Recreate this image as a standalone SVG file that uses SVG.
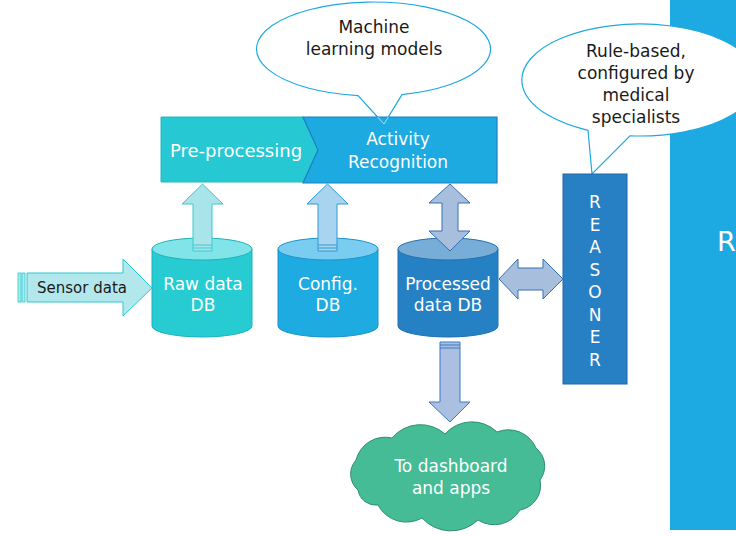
<svg xmlns="http://www.w3.org/2000/svg" width="736" height="536" viewBox="0 0 736 536">
<style>
text{font-family:"DejaVu Sans","Liberation Sans",sans-serif;text-anchor:middle}
.w{fill:#ffffff}
.k{fill:#1a1a1a}
.lbl{font-size:17px}
.bub{fill:#ffffff;stroke:#1CA9E0;stroke-width:1.2}
</style>
<rect x="0" y="0" width="736" height="536" fill="#ffffff"/>
<g id="side-panel">
<rect x="670" y="0" width="66" height="530" fill="#1DA9E1"/>
<text x="717" y="251" class="w" style="font-size:27px;text-anchor:start">R</text>
</g>
<g id="bubble-reasoner">
<path class="bub" d="M588,130.3 A118,56 0 1 1 630,135.8 L592,174 Z"/>
<text class="k lbl" x="636" y="57">Rule-based,</text>
<text class="k lbl" x="636" y="79">configured by</text>
<text class="k lbl" x="636" y="101">medical</text>
<text class="k lbl" x="636" y="123">specialists</text>
</g>
<g id="bubble-ml">
<path class="bub" d="M358,95.6 A117,47 0 1 1 402,94.6 L384,124 Z"/>
<text class="k lbl" x="374" y="33">Machine</text>
<text class="k lbl" x="374" y="55">learning models</text>
</g>
<g id="preprocessing">
<path d="M161,117 L303,117 L318,150 L303,182 L161,182 Z" fill="#26C9D3" stroke="#22B8C2" stroke-width="1"/>
<text class="w" x="236" y="157" style="font-size:18px">Pre-processing</text>
</g>
<g id="activity">
<path d="M303,117 L497,117 L497,183 L303,183 L318,150 Z" fill="#1DAAE1" stroke="#1B80C1" stroke-width="1.2"/>
<path d="M377.6,117 L384,124 L388.3,117" fill="none" stroke="#A8DDF4" stroke-width="1"/>
<text class="w lbl" x="398" y="145">Activity</text>
<text class="w lbl" x="398" y="168">Recognition</text>
</g>
<g id="reasoner">
<rect x="563" y="174" width="64" height="210" fill="#2780C3" stroke="#2266A5" stroke-width="1"/>
<g class="w" style="font-size:17px">
<text x="595" y="208">R</text>
<text x="595" y="230.5">E</text>
<text x="595" y="253">A</text>
<text x="595" y="275.5">S</text>
<text x="595" y="298">O</text>
<text x="595" y="320.5">N</text>
<text x="595" y="343">E</text>
<text x="595" y="365.5">R</text>
</g>
</g>
<g id="raw-db">
<path d="M152,249 L152,326 A50,11 0 0 0 252,326 L252,249 Z" fill="#27CBD2" stroke="#1FB3BB" stroke-width="1"/>
<ellipse cx="202" cy="249" rx="50" ry="11" fill="#80E4E8" stroke="#1FB3BB" stroke-width="1"/>
<text class="w lbl" x="203" y="290">Raw data</text>
<text class="w lbl" x="203" y="311">DB</text>
</g>
<g id="config-db">
<path d="M278,249 L278,326 A50,11 0 0 0 378,326 L378,249 Z" fill="#1DABE1" stroke="#1A95CC" stroke-width="1"/>
<ellipse cx="328" cy="249" rx="50" ry="11" fill="#7ACDF0" stroke="#1A95CC" stroke-width="1"/>
<text class="w lbl" x="328" y="290">Config.</text>
<text class="w lbl" x="328" y="311">DB</text>
</g>
<g id="processed-db">
<path d="M398,249 L398,326 A50,11 0 0 0 498,326 L498,249 Z" fill="#2681C4" stroke="#2470B0" stroke-width="1"/>
<ellipse cx="448" cy="249" rx="50" ry="11" fill="#78ADD8" stroke="#2470B0" stroke-width="1"/>
<text class="w lbl" x="448" y="290">Processed</text>
<text class="w lbl" x="448" y="311">data DB</text>
</g>
<g id="dashboard">
<path d="M356,460 A30,30 0 0 1 392,438 A37,37 0 0 1 445,434 A36,36 0 0 1 497,432 A30,30 0 0 1 536,448 A23,23 0 0 1 540,480 A25,25 0 0 1 520,510 A30,30 0 0 1 478,520 A39,39 0 0 1 422,518 A32,32 0 0 1 378,505 A18,18 0 0 1 358,490 A21,21 0 0 1 356,460 Z" fill="#45BC95" stroke="#2E8F70" stroke-width="1"/>
<text class="w lbl" x="451" y="472">To dashboard</text>
<text class="w lbl" x="451" y="494">and apps</text>
</g>
<g id="connectors">
<g id="sensor-arrow">
<rect x="18" y="273" width="3" height="29" fill="#B2E8EC" stroke="#27C9D2" stroke-width="0.8"/>
<rect x="22" y="273" width="3" height="29" fill="#B2E8EC" stroke="#27C9D2" stroke-width="0.8"/>
<path d="M27,273 L123,273 L123,259 L152,288 L123,316 L123,302 L27,302 Z" fill="#B2E8EC" stroke="#27C9D2" stroke-width="1"/>
<text class="k" x="82" y="293" style="font-size:15px">Sensor data</text>
</g>
<g id="raw-to-pre">
<path d="M193,251 L193,204 L182,204 L202.5,184 L223,204 L212,204 L212,251 Z" fill="#A8E4EA" stroke="#3CC8D0" stroke-width="1"/>
<path d="M193,245 H212 M193,248 H212" stroke="#3CC8D0" stroke-width="1"/>
</g>
<g id="config-to-activity">
<path d="M318,251 L318,204 L307,204 L327.5,184 L348,204 L337,204 L337,251 Z" fill="#A9D4F0" stroke="#2A9BD8" stroke-width="1"/>
<path d="M318,245 H337 M318,248 H337" stroke="#2A9BD8" stroke-width="1"/>
</g>
<g id="activity-processed">
<path d="M450,184 L470,203 L458,203 L458,231 L470,231 L450,251 L429,231 L442,231 L442,203 L429,203 Z" fill="#A7BEDD" stroke="#3570B8" stroke-width="1"/>
</g>
<g id="processed-reasoner">
<path d="M499,279 L518,259 L518,268 L543,268 L543,259 L563,279 L543,299 L543,290 L518,290 L518,299 Z" fill="#A7BEDD" stroke="#3570B8" stroke-width="1"/>
</g>
<g id="processed-to-dashboard">
<path d="M440,342 L460,342 L460,402 L470,402 L450,422 L429,402 L440,402 Z" fill="#ABC0E0" stroke="#3B78C8" stroke-width="1"/>
<path d="M440,345 H460 M440,348 H460" stroke="#3B78C8" stroke-width="1"/>
</g>
</g>
</svg>
